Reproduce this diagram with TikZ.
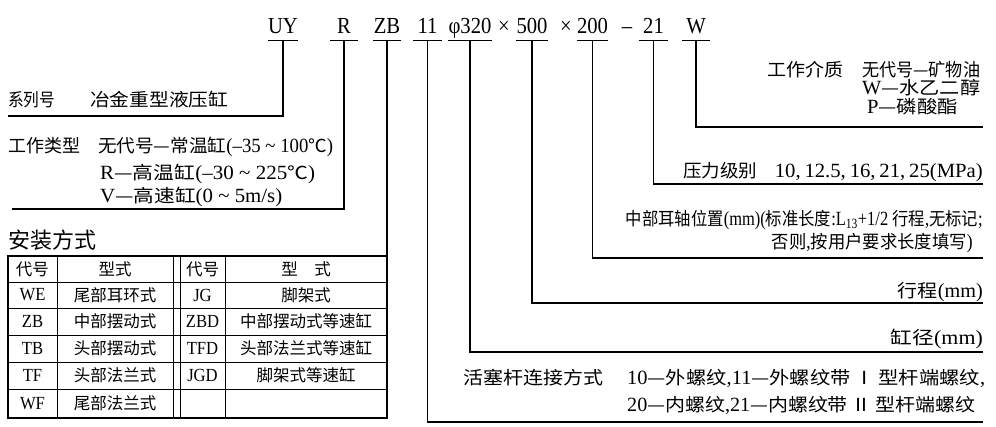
\documentclass[tikz,border=0pt]{standalone}
\usepackage{fontspec}
\usepackage{graphicx}
\setmainfont[Scale=1.12,FakeStretch=0.9]{Liberation Serif}
\newfontfamily\cjk{Noto Sans CJK SC}
\newcommand\zh[1]{{\cjk #1}}
\newcommand\fw[2]{\resizebox{#1pt}{\height}{#2}}
\begin{document}
\begin{tikzpicture}[x=1pt,y=-1pt,
  txt/.style={inner sep=0pt, font=\fontsize{18}{20}\selectfont},
  code/.style={inner sep=0pt, anchor=base, font=\fontsize{20.5}{24}\selectfont, text depth=7pt, minimum width=#1},
  sign/.style={inner sep=0pt, anchor=base, font=\fontsize{20.5}{24}\selectfont},
  ln/.style={line width=1.3pt},
  cell/.style={inner sep=0pt, font=\fontsize{16.5}{18}\selectfont},
  grid/.style={line width=0.9pt}]
\useasboundingbox (0,0) rectangle (996,426);

% ---- code row
\node[code=30] (uy) at (283,33) {UY};
\node[code=28] (r) at (344,33) {R};
\node[code=28] (zb) at (387,33) {ZB};
\node[code=29] (n11) at (427.5,33) {11};
\node[code=44] (phi) at (470,33) {φ320};
\node[sign] (x1) at (504,33) {×};
\node[code=29] (n500) at (532,33) {500};
\node[sign] (x2) at (566,33) {×};
\node[code=29] (n200) at (592.5,33) {200};
\node[sign] (dash) at (627,33) {–};
\node[code=29] (n21) at (653.5,33) {21};
\node[code=28] (w) at (696,33) {W};
\foreach \n in {uy,r,zb,n11,phi,n500,n200,n21,w}
  \draw[ln] (\n.south west) -- (\n.south east);

% ---- connector ends
\coordinate (uyE) at (8,116);
\coordinate (rE) at (12,209);
\coordinate (tblNE) at (387,256);
\coordinate (n11E) at (983,422);
\coordinate (phiE) at (983,352);
\coordinate (n500E) at (983,303);
\coordinate (n200E) at (983,258);
\coordinate (n21E) at (983,184);
\coordinate (wE) at (983,127);

\draw[ln] (uy.south) |- (uyE);
\draw[ln] (r.south) |- (rE);
\draw[ln] (zb.south) -- (tblNE);
\draw[ln] (n11.south) |- (n11E);
\draw[ln] (phi.south) |- (phiE);
\draw[ln] (n500.south) |- (n500E);
\draw[ln] (n200.south) |- (n200E);
\draw[ln] (n21.south) |- (n21E);
\draw[ln] (w.south) |- (wE);

% ---- left texts
\node[txt, anchor=base west] (sys) at (8,106) {\fw{47}{\zh{系列号}}};
\node[txt, anchor=base west] (sysv) at (90,106) {\fw{138}{\zh{冶金重型液压缸}}};
\node[txt, anchor=base west] (typ) at (8,152) {\fw{72}{\zh{工作类型}}};
\node[txt, anchor=base west] (typ1) at (98,152) {\fw{235}{\zh{无代号—常温缸}(–35 \textasciitilde{} 100\zh{℃})}};
\node[txt, anchor=base west] (typ2) at (100,179) {\fw{215}{R\zh{—高温缸}(–30 \textasciitilde{} 225\zh{℃})}};
\node[txt, anchor=base west] (typ3) at (100,202) {\fw{182}{V\zh{—高速缸}(0 \textasciitilde{} 5m/s)}};
\node[txt, anchor=base west, font=\fontsize{22}{24}\selectfont] (mount) at (8,248) {\zh{安装方式}};

% ---- right texts
\node[txt, anchor=base west] (wl) at (767,76) {\fw{76}{\zh{工作介质}}};
\node[txt, anchor=base west] (w1) at (862,76) {\fw{118}{\zh{无代号—矿物油}}};
\node[txt, anchor=base west] (w2) at (862,94) {\fw{118}{W\zh{—水乙二醇}}};
\node[txt, anchor=base west] (w3) at (867,113) {\fw{91}{P\zh{—磷酸酯}}};
\node[txt, anchor=base west] (pl) at (683,177) {\fw{74}{\zh{压力级别}}};
\node[txt, anchor=base east] (pv) at (983,177) {\fw{208}{10,\,12.5,\,16,\,21,\,25(MPa)}};
\node[txt, anchor=base east] (m1) at (983,225) {\fw{357}{\zh{中部耳轴位置}(mm)(\zh{标准长度}:L\textsubscript{13}+1/2 \zh{行程},\zh{无标记};}};
\node[txt, anchor=base east] (m2) at (973,248) {\fw{201}{\zh{否则},\zh{按用户要求长度填写})}};
\node[txt, anchor=base east] (st) at (983,297) {\fw{85}{\zh{行程}(mm)}};
\node[txt, anchor=base east] (bo) at (983,344) {\fw{92}{\zh{缸径}(mm)}};
\node[txt, anchor=base west] (pr) at (463,384) {\fw{140}{\zh{活塞杆连接方式}}};
\node[txt, anchor=base west] (pr1) at (627,384) {\fw{358}{10\zh{—外螺纹},11\zh{—外螺纹带}\,\zh{Ⅰ}\,\zh{型杆端螺纹},}};
\node[txt, anchor=base west] (pr2) at (627,411) {\fw{348}{20\zh{—内螺纹},21\zh{—内螺纹带}\,\zh{Ⅱ}\,\zh{型杆端螺纹}}};

% ---- table
\foreach \yy in {282,308,335,362,389}
  \draw[grid] (8,\yy) -- (387,\yy);
\foreach \xx in {57,173,180,225}
  \draw[grid] (\xx,256) -- (\xx,418);
\draw[ln] (8,256) rectangle (387,418);

\node[cell] (h1) at (32.5,269) {\zh{代号}};
\node[cell] (h2) at (115,269) {\zh{型式}};
\node[cell] (h3) at (202.5,269) {\zh{代号}};
\node[cell] (h4) at (306,269) {\zh{型　式}};

\node[cell] (a1) at (32.5,295) {WE};
\node[cell] (b1) at (115,295) {\zh{尾部耳环式}};
\node[cell] (c1) at (202.5,295) {JG};
\node[cell] (d1) at (306,295) {\zh{脚架式}};

\node[cell] (a2) at (32.5,321.5) {ZB};
\node[cell] (b2) at (115,321.5) {\zh{中部摆动式}};
\node[cell] (c2) at (202.5,321.5) {ZBD};
\node[cell] (d2) at (306,321.5) {\zh{中部摆动式等速缸}};

\node[cell] (a3) at (32.5,348.5) {TB};
\node[cell] (b3) at (115,348.5) {\zh{头部摆动式}};
\node[cell] (c3) at (202.5,348.5) {TFD};
\node[cell] (d3) at (306,348.5) {\zh{头部法兰式等速缸}};

\node[cell] (a4) at (32.5,375.5) {TF};
\node[cell] (b4) at (115,375.5) {\zh{头部法兰式}};
\node[cell] (c4) at (202.5,375.5) {JGD};
\node[cell] (d4) at (306,375.5) {\zh{脚架式等速缸}};

\node[cell] (a5) at (32.5,403.5) {WF};
\node[cell] (b5) at (115,403.5) {\zh{尾部法兰式}};
\end{tikzpicture}
\end{document}
